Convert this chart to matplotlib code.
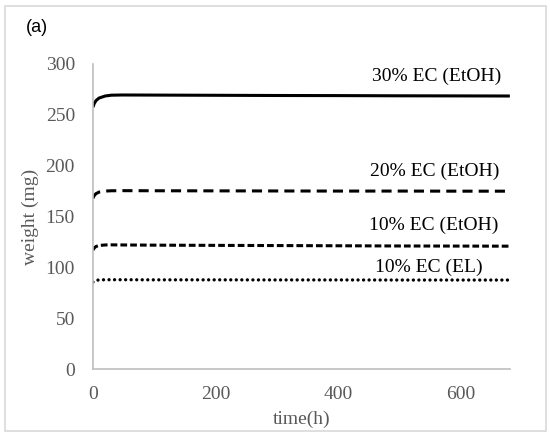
import matplotlib.pyplot as plt
from matplotlib.patches import Rectangle

# time (h) and weight (mg)
time_h = [0, 2, 5, 10, 20, 30, 48, 100, 200, 300, 400, 500, 600, 680]
ec30_etoh = [257.5, 261, 264, 266.5, 268.5, 269.3, 269.5, 269.4, 269.2, 269, 268.9, 268.7, 268.6, 268.5]
ec20_etoh = [168, 170.5, 172.5, 174, 175, 175.3, 175.4, 175.3, 175.2, 175.1, 175, 175, 174.9, 174.9]
ec10_etoh = [117, 119, 120.5, 121.5, 122, 122.1, 122, 121.8, 121.6, 121.4, 121.2, 121, 120.9, 120.8]
ec10_el = [85.5, 86.5, 87.2, 87.6, 87.8, 87.8, 87.8, 87.7, 87.7, 87.6, 87.6, 87.5, 87.5, 87.5]

labels = ['30% EC (EtOH)', '20% EC (EtOH)', '10% EC (EtOH)', '10% EC (EL)']
label_pos = [(560, 288), (557, 194), (555, 141), (548, 100)]

plt.rcParams['font.family'] = ['Liberation Serif', 'DejaVu Serif']
grey = '#595959'
spine_grey = '#bfbfbf'

fig = plt.figure(figsize=(5.5, 4.37), dpi=100)
ax = fig.add_axes([0.169, 0.1556, 0.758, 0.698])

ax.plot(time_h, ec30_etoh, color='black', lw=2.2, solid_capstyle='butt')
ax.plot(time_h, ec20_etoh, color='black', lw=2.2, dashes=(3.3, 2.0))
ax.plot(time_h, ec10_etoh, color='black', lw=2.2, dashes=(2.2, 1.0))
ax.plot(time_h, ec10_el, color='black', lw=2.4, dashes=(0.01, 1.65), dash_capstyle='round')

for txt, (x, y) in zip(labels, label_pos):
    ax.text(x, y, txt, ha='center', va='center', fontsize=14, color='black')

ax.set_xlim(0, 680)
ax.set_ylim(0, 300)
ax.set_xticks([0, 200, 400, 600])
ax.set_yticks(range(0, 301, 50))
ax.tick_params(length=0, labelsize=14, labelcolor=grey)
ax.tick_params(axis='y', pad=13)
ax.tick_params(axis='x', pad=12)
for s in ['top', 'right']:
    ax.spines[s].set_visible(False)
for s in ['left', 'bottom']:
    ax.spines[s].set_color(spine_grey)
    ax.spines[s].set_linewidth(1.2)

ax.set_xlabel('time(h)', fontsize=14, color=grey, labelpad=6)
ax.set_ylabel('weight (mg)', fontsize=14, color=grey, labelpad=5)

fig.text(26 / 550, 1 - 27 / 437, '(a)', family='Liberation Sans', fontsize=13,
         ha='left', va='center', color='black')
fig.patches.append(Rectangle((5 / 550, 6 / 437), 541 / 550, 425 / 437,
                             transform=fig.transFigure, fill=False,
                             edgecolor='#d9d9d9', lw=1.2))

fig.savefig('out.png', dpi=100)
